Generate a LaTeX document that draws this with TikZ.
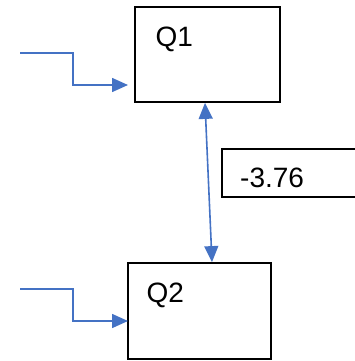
\documentclass[tikz,border=0pt]{standalone}
\usepackage{fontspec}
\setmainfont{Liberation Sans}
\usetikzlibrary{arrows.meta,calc}
\definecolor{lineblue}{RGB}{68,114,196}
\tikzset{
  boxq/.style={draw=black, line width=1.8pt, rectangle, inner sep=0pt},
  lbltext/.style={inner sep=0pt, anchor=base west, font=\fontsize{28}{33}\selectfont},
  conn/.style={draw=lineblue, line width=1.6pt, -{Triangle[length=16pt,width=14pt]}},
  conn2/.style={draw=lineblue, line width=1.6pt, {Triangle[length=16pt,width=14pt]}-{Triangle[length=16pt,width=14pt]}}
}
\begin{document}
\begin{tikzpicture}[x=1pt,y=-1pt]
\useasboundingbox (0,0) rectangle (355,361);
\clip (0,0) rectangle (355,361);
% boxes
\node[boxq, minimum width=145pt, minimum height=95pt] (q1) at (207.5,54.5) {};
\node[boxq, minimum width=143pt, minimum height=96pt] (q2) at (199.5,311) {};
\node[boxq, line width=1.5pt, minimum width=160pt, minimum height=48pt] (val) at (302,173) {};
% texts
\node[lbltext] (q1t) at (155.5,46.5) {Q1};
\node[lbltext] (q2t) at (146.5,302.5) {Q2};
\node[lbltext] (valt) at (240,187.5) {-3.76};
% input connectors
\coordinate (s1) at (20,53);
\coordinate (e1) at (128,85);
\coordinate (s2) at (20,289);
\coordinate (e2) at (128,321);
\draw[conn] (s1) -- (73,53) |- (e1);
\draw[conn] (s2) -- (73,289) |- (e2);
% link between Q1 and Q2
\draw[conn2] ($(q1.south)+(-2.5,0)$) -- ($(q2.north)+(12.5,0)$);
\end{tikzpicture}
\end{document}
